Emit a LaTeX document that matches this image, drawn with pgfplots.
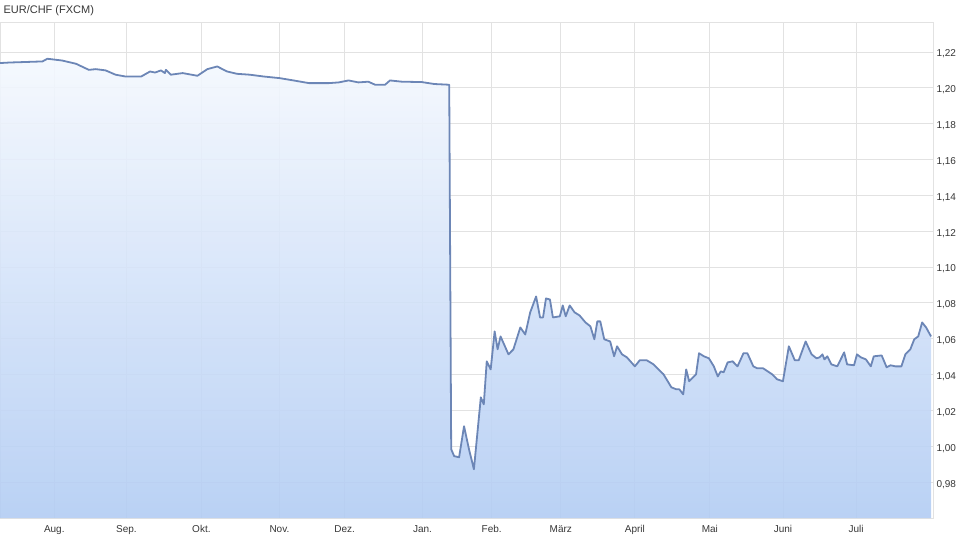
\documentclass[border=0pt]{standalone}
\usepackage{pgfplots}
\pgfplotsset{compat=1.18}
\usepackage{pgfplotstable}
\usepackage{fontspec}
\setmainfont{Liberation Sans}
\definecolor{linec}{RGB}{108,134,182}
\definecolor{gridc}{RGB}{226,226,226}
\definecolor{topc}{RGB}{244,248,254}
\definecolor{botc}{RGB}{178,204,243}
\definecolor{txtc}{RGB}{55,55,55}

% x: position on the chart's trading-day time scale (reference pixel units), y: EUR/CHF rate
\pgfplotstableread{
x y
0 1.2138
10 1.2141
43 1.2147
48 1.2162
63 1.2152
77 1.2134
90 1.2100
97 1.2104
107 1.2097
117 1.2073
127 1.2063
143 1.2063
152 1.2091
157 1.2085
163 1.2097
167 1.2082
168 1.2100
173 1.2073
185 1.2082
200 1.2067
210 1.2104
220 1.2119
230 1.2091
240 1.2078
253 1.2073
267 1.2063
283 1.2054
293 1.2045
313 1.2026
333 1.2026
343 1.2030
353 1.2041
363 1.2030
373 1.2034
380 1.2017
390 1.2017
395 1.2041
407 1.2034
427 1.2032
440 1.2021
455 1.2017
457 0.9984
460 0.9945
465 0.9939
470 1.0112
475 0.9984
480 0.9872
487 1.0273
490 1.0234
493 1.0474
497 1.0429
501 1.0641
504 1.0541
507 1.0613
515 1.0513
520 1.0541
527 1.0663
532 1.0624
537 1.0747
543 1.0836
547 1.0719
550 1.0719
553 1.0825
557 1.0819
560 1.0719
567 1.0725
570 1.0786
573 1.0725
577 1.0786
582 1.0747
587 1.0730
593 1.0691
598 1.0669
602 1.0597
605 1.0697
608 1.0697
612 1.0597
618 1.0585
622 1.0502
625 1.0558
630 1.0513
635 1.0496
643 1.0446
648 1.0480
655 1.0480
662 1.0457
667 1.0429
672 1.0402
680 1.0329
685 1.0318
688 1.0318
692 1.0290
695 1.0429
698 1.0363
705 1.0402
708 1.0519
713 1.0502
718 1.0491
723 1.0446
727 1.0390
730 1.0418
733 1.0413
737 1.0468
742 1.0474
747 1.0446
753 1.0519
757 1.0519
763 1.0446
767 1.0435
773 1.0435
782 1.0402
787 1.0374
793 1.0363
799 1.0558
805 1.0480
809 1.0480
816 1.0585
822 1.0513
827 1.0491
830 1.0496
833 1.0513
835 1.0485
838 1.0502
842 1.0457
848 1.0446
855 1.0524
858 1.0457
865 1.0452
868 1.0513
872 1.0496
877 1.0485
882 1.0446
885 1.0502
893 1.0507
898 1.0441
902 1.0452
907 1.0446
913 1.0446
917 1.0513
922 1.0541
926 1.0597
930 1.0613
934 1.0691
938 1.0663
943 1.0613
}\eurchf

\begin{document}
\begin{tikzpicture}
\useasboundingbox (0pt,0pt) rectangle (960pt,542pt);
\begin{axis}[
  at={(0pt,24pt)}, anchor=south west,
  scale only axis, width=933pt, height=496pt,
  xmin=0, xmax=945, ymin=0.96, ymax=1.2367,
  axis line style={draw=gridc, line width=0.8pt},
  grid=major, major grid style={draw=gridc, line width=0.8pt},
  major tick length=0pt,
  xtick={55,128,204,283,349,428,498,568,643,719,793,867},
  xticklabels={Aug.,Sep.,Okt.,Nov.,Dez.,Jan.,Feb.,März,April,Mai,Juni,Juli},
  ytick={0.98,1.00,1.02,1.04,1.06,1.08,1.10,1.12,1.14,1.16,1.18,1.20,1.22},
  yticklabel pos=right,
  ticklabel style={font=\fontsize{10}{12}\selectfont, text=txtc},
  xticklabel style={yshift=-4pt},
  yticklabel style={yshift=-2pt, /pgf/number format/.cd, use comma, fixed, fixed zerofill, precision=2, assume math mode=true},
]
\addplot[top color=topc, bottom color=botc, fill opacity=0.9, draw=none, forget plot] table[x=x,y=y]{\eurchf} |- (axis cs:0,0.96) -- cycle;
\addplot[color=linec, line width=1.8pt, line join=round, mark=none] table[x=x,y=y]{\eurchf};
\end{axis}
\node[anchor=west, font=\fontsize{11}{13}\selectfont, text=txtc] at (0pt,531pt) {EUR/CHF (FXCM)};
\end{tikzpicture}
\end{document}
